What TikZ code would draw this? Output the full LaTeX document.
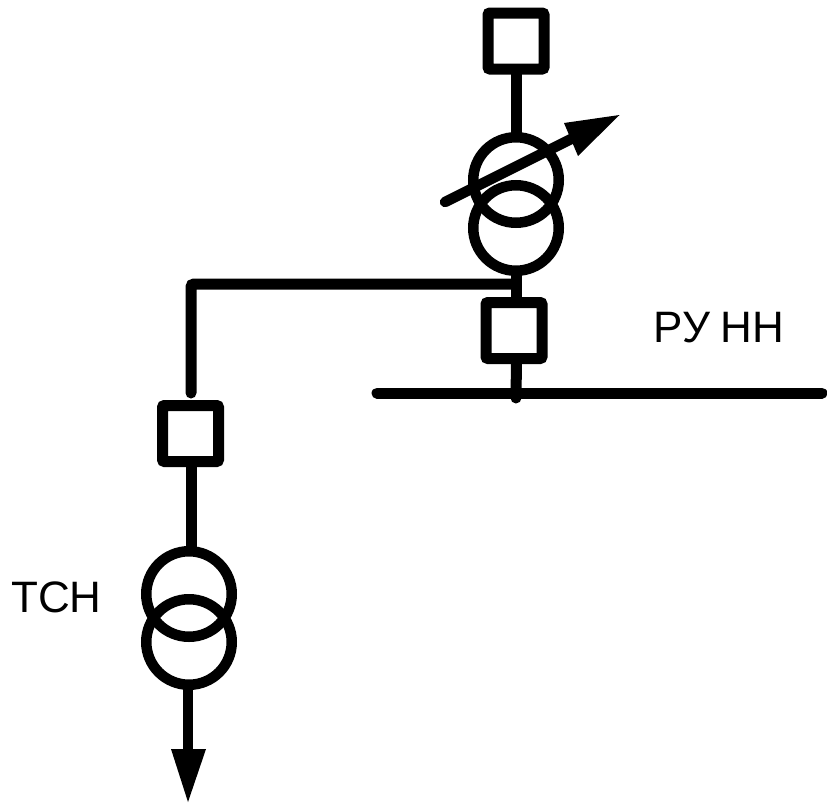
\documentclass[tikz,border=0pt]{standalone}
\usepackage{fontspec}
\setmainfont{Liberation Sans}
\usetikzlibrary{calc}
\begin{document}
\begin{tikzpicture}[x=1pt,y=-1pt,
 brk/.style={draw=black,line width=11pt,rounded corners=2pt,minimum size=56pt,inner sep=0pt,fill=none},
 wind/.style={draw=black,line width=10.5pt,circle,minimum size=85.5pt,inner sep=0pt},
 wire/.style={draw=black,line width=11pt,line cap=round},
 lbl/.style={font=\fontsize{44}{44}\selectfont,inner sep=0pt,text=black}]
\useasboundingbox (0,0) rectangle (827,803);
\node[brk] (b1) at (516,41) {};
\node[wind] (t1a) at (516,180) {};
\node[wind] (t1b) at (516,228) {};
\node[brk] (b2) at (514,330.5) {};
\node[brk] (b3) at (190.5,433.5) {};
\node[wind] (t2a) at (189,594) {};
\node[wind] (t2b) at (189,642) {};
\coordinate (busl) at (377,393);
\coordinate (busr) at (822,393);
\coordinate (busj) at (516,398);
\coordinate (b1s) at (516.5,70);
\coordinate (t1t) at (516.5,137);
\coordinate (t1s) at (516.5,270);
\coordinate (b2n) at (516.5,302);
\coordinate (b2s) at (516.5,360);
\coordinate (corner) at (191,284);
\coordinate (junc) at (516,284);
\coordinate (b3t) at (191,393);
\coordinate (b3s) at (191,462);
\coordinate (t2t) at (191,552);
\coordinate (t2s) at (188,684);
\coordinate (t2e) at (188,755);
\coordinate (arrs) at (445,202);
\coordinate (arre) at (575,137);
\coordinate (arrt) at (619.5,115);
\coordinate (arrh1) at (564,123);
\coordinate (arrh2) at (578,156);
\coordinate (outt) at (188,802);
\coordinate (outl) at (171,749);
\coordinate (outr) at (206,749);
\draw[wire,line cap=butt] (b1s) -- (t1t);
\draw[wire,line cap=butt] (t1s) -- (b2n);
\draw[wire] (b2s) -- (busj);
\draw[wire] (busl) -- (busr);
\draw[wire,rounded corners=3pt] (junc) -- (corner) -- (b3t);
\draw[wire,line cap=butt] (b3s) -- (t2t);
\draw[wire,line width=10.5pt,line cap=butt] (t2s) -- (t2e);
\fill[black] (outt) -- (outl) -- (outr) -- cycle;
\draw[wire,line width=10.5pt] (arrs) -- (arre);
\fill[black] (arrt) -- (arrh1) -- (arrh2) -- cycle;
\node[lbl,anchor=base west] (ru) at (653.5,342) {РУ\hspace{10.5pt}НН};
\node[lbl,anchor=base west] (tsn) at (11,612) {ТСН};
\end{tikzpicture}
\end{document}
